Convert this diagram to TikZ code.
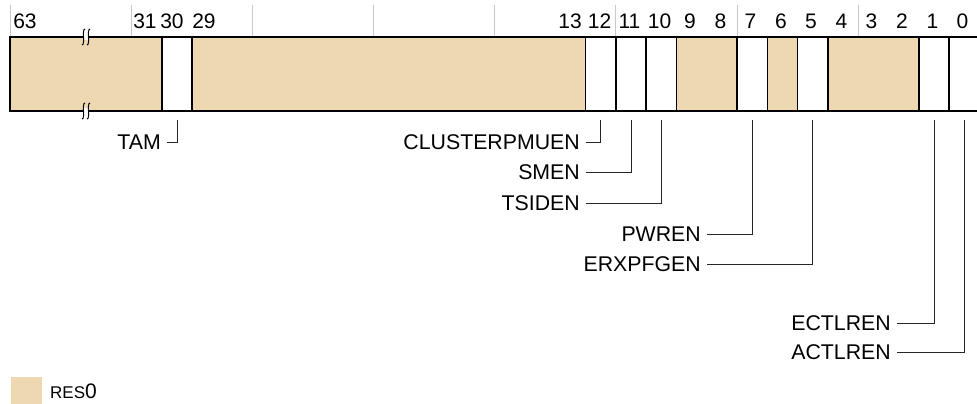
\documentclass[tikz,border=0pt]{standalone}
\usepackage{fontspec}
\setmainfont{Liberation Sans}
\usepackage{xcolor}
\definecolor{resBody}{RGB}{238,216,177}
\definecolor{tickGray}{RGB}{200,200,200}
\usepackage{tikz}
\usetikzlibrary{positioning}
\tikzstyle{field} = [draw, line width=1.5pt, minimum height=74pt, anchor=north west,
        inner sep=0pt, outer sep=0pt, fill=white]
\tikzstyle{res} = [field, fill=resBody]
\tikzstyle{bitnum} = [anchor=base, inner sep=0pt, font={\fontsize{21}{24}\selectfont}]
\tikzstyle{label} = [anchor=east, inner xsep=6pt, inner ysep=0pt, font={\fontsize{21.3}{24}\selectfont}]
\tikzstyle{leader} = [line width=1pt, draw=black!85]
\tikzstyle{tick} = [line width=1pt, draw=tickGray]
\tikzstyle{brk} = [line width=1pt]

\begin{document}
\begin{tikzpicture}[x=1pt, y=-1pt]
                \useasboundingbox (0,0) rectangle (977,404);
                \draw [tick] (10,5) -- (10,36);
                \draw [tick] (131.1,5) -- (131.1,36);
                \draw [tick] (252.3,5) -- (252.3,36);
                \draw [tick] (373.5,5) -- (373.5,36);
                \draw [tick] (494.7,5) -- (494.7,36);
                \draw [tick] (615.9,5) -- (615.9,36);
                \draw [tick] (737.1,5) -- (737.1,36);
                \draw [tick] (858.3,5) -- (858.3,36);

                \node [res, minimum width=152pt] (res63) at (10,37) {};
                \node [field, minimum width=30pt] (f30) at (162,37) {};
                \node [res, minimum width=393.6pt] (res29) at (192,37) {};
                \node [field, minimum width=30.3pt] (f12) at (585.6,37) {};
                \node [field, minimum width=30.3pt] (f11) at (615.9,37) {};
                \node [field, minimum width=30.3pt] (f10) at (646.2,37) {};
                \node [res, minimum width=60.6pt] (res9) at (676.5,37) {};
                \node [field, minimum width=30.3pt] (f7) at (737.1,37) {};
                \node [res, minimum width=30.3pt] (res6) at (767.4,37) {};
                \node [field, minimum width=30.3pt] (f5) at (797.7,37) {};
                \node [res, minimum width=90.9pt] (res4) at (828,37) {};
                \node [field, minimum width=30.3pt] (f1) at (918.9,37) {};
                \node [field, minimum width=30.3pt] (f0) at (949.2,37) {};

                \fill [white] (84,34) rectangle (88,40);
                \fill [white] (84,108) rectangle (88,114);
                \draw [brk] (85,29) .. controls (83,28.5) and (83.5,35) .. (83.5,37) .. controls (83.5,39) and (84,45.5) .. (82,45);
                \draw [brk] (90,29) .. controls (88,28.5) and (88.5,35) .. (88.5,37) .. controls (88.5,39) and (89,45.5) .. (87,45);
                \draw [brk] (85,103) .. controls (83,102.5) and (83.5,109) .. (83.5,111) .. controls (83.5,113) and (84,119.5) .. (82,119);
                \draw [brk] (90,103) .. controls (88,102.5) and (88.5,109) .. (88.5,111) .. controls (88.5,113) and (89,119.5) .. (87,119);

                \node [bitnum] (n63) at (25,29) {63};
                \node [bitnum] (n31) at (145,29) {31};
                \node [bitnum] (n30) at (172,29) {30};
                \node [bitnum] (n29) at (204,29) {29};
                \node [bitnum] (n13) at (570,29) {13};
                \node [bitnum] (n12) at (599.5,29) {12};
                \node [bitnum] (n11) at (629.5,29) {11};
                \node [bitnum] (n10) at (659.5,29) {10};
                \node [bitnum] (n9) at (690,29) {9};
                \node [bitnum] (n8) at (720.5,29) {8};
                \node [bitnum] (n7) at (750.5,29) {7};
                \node [bitnum] (n6) at (781,29) {6};
                \node [bitnum] (n5) at (811,29) {5};
                \node [bitnum] (n4) at (841.5,29) {4};
                \node [bitnum] (n3) at (871.5,29) {3};
                \node [bitnum] (n2) at (902,29) {2};
                \node [bitnum] (n1) at (932.5,29) {1};
                \node [bitnum] (n0) at (962.5,29) {0};

                \node [label] (tam) at (167,142) {TAM};
                \node [label] (clusterpmuen) at (586,142) {CLUSTERPMUEN};
                \node [label] (smen) at (586,172) {SMEN};
                \node [label] (tsiden) at (586,203) {TSIDEN};
                \node [label] (pwren) at (707,234) {PWREN};
                \node [label] (erxpfgen) at (707,264) {ERXPFGEN};
                \node [label] (ectlren) at (897,323) {ECTLREN};
                \node [label] (actlren) at (897,352) {ACTLREN};

                \draw [leader] ([yshift=-9pt]f30.south) |- (tam.east);
                \draw [leader] ([yshift=-9pt]f12.south) |- (clusterpmuen.east);
                \draw [leader] ([yshift=-9pt]f11.south) |- (smen.east);
                \draw [leader] ([yshift=-9pt]f10.south) |- (tsiden.east);
                \draw [leader] ([yshift=-9pt]f7.south) |- (pwren.east);
                \draw [leader] ([yshift=-9pt]f5.south) |- (erxpfgen.east);
                \draw [leader] ([yshift=-9pt]f1.south) |- (ectlren.east);
                \draw [leader] ([yshift=-9pt]f0.south) |- (actlren.east);

                \node [fill=resBody, minimum size=31pt, inner sep=0pt, anchor=north west] (key) at (11,377) {};
                \node [anchor=base west, inner sep=0pt] (keytext) at (50,398) {\fontsize{17}{20}\selectfont RES\fontsize{21}{24}\selectfont 0};
            \end{tikzpicture}
\end{document}
